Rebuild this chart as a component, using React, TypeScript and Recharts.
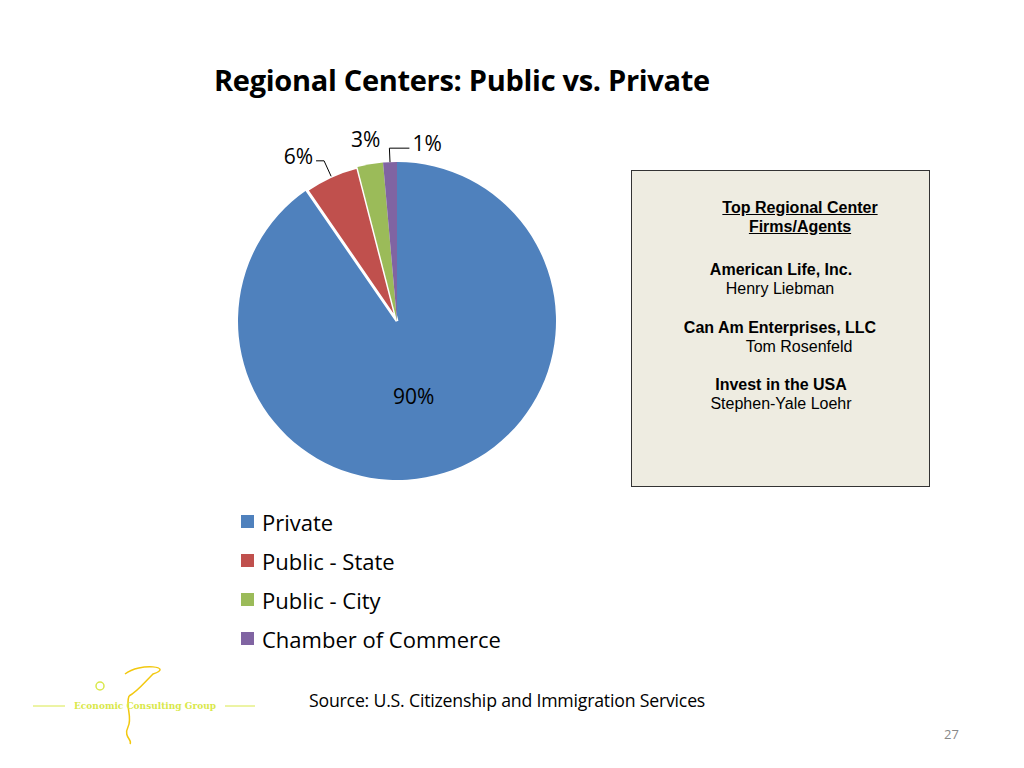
import React from "react";
import { PieChart, Pie, Cell } from "recharts";

const categories = ["Private", "Public - State", "Public - City", "Chamber of Commerce"];
const shares = [90.4, 5.6, 2.6, 1.4];
const percentLabels = ["90%", "6%", "3%", "1%"];
const colors = ["#4F81BD", "#C0504D", "#9BBB59", "#8064A2"];

const boxLines = [
  { text: "Top Regional Center", bold: true, underline: true, x: 800, y: 208 },
  { text: "Firms/Agents", bold: true, underline: true, x: 800, y: 227 },
  { text: "American Life, Inc.", bold: true, x: 781, y: 270 },
  { text: "Henry Liebman", bold: false, x: 780, y: 289 },
  { text: "Can Am Enterprises, LLC", bold: true, x: 780, y: 328 },
  { text: "Tom Rosenfeld", bold: false, x: 799, y: 347 },
  { text: "Invest in the USA", bold: true, x: 781, y: 385 },
  { text: "Stephen-Yale Loehr", bold: false, x: 781, y: 404 },
];

const data = categories.map((name, i) => ({ name, value: shares[i], label: percentLabels[i] }));

const FONT = "'Open Sans', Lato, sans-serif";
const BOX_FONT = "'Liberation Sans', Arial, sans-serif";
const RAD = Math.PI / 180;

function SliceLabel(props: any) {
  const { cx, cy, midAngle, outerRadius, index } = props;
  const cos = Math.cos(-midAngle * RAD);
  const sin = Math.sin(-midAngle * RAD);
  const text = percentLabels[index];
  if (index === 0) {
    const r = outerRadius * 0.48;
    return (
      <text x={cx + r * cos - 6} y={cy + r * sin + 2} textAnchor="middle" dominantBaseline="central"
        fontFamily={FONT} fontSize={21} fill="#000">{text}</text>
    );
  }
  const ex = cx + outerRadius * cos;
  const ey = cy + outerRadius * sin;
  if (index === 2) {
    const r = outerRadius + 26;
    return (
      <text x={cx + r * cos} y={cy + r * sin} textAnchor="middle" dominantBaseline="central"
        fontFamily={FONT} fontSize={21} fill="#000">{text}</text>
    );
  }
  const dir = index === 1 ? -1 : 1;
  const r = outerRadius + (index === 1 ? 17 : 14);
  const mx = cx + r * cos;
  const my = cy + r * sin;
  const hx = mx + dir * (index === 1 ? 8 : 20);
  return (
    <g>
      <polyline points={`${ex},${ey} ${mx},${my} ${hx},${my}`} fill="none" stroke="#000" strokeWidth={1} />
      <text x={hx + dir * 3} y={my - 5} textAnchor={dir < 0 ? "end" : "start"} dominantBaseline="central"
        fontFamily={FONT} fontSize={21} fill="#000">{text}</text>
    </g>
  );
}

export default function App() {
  return (
    <div style={{ position: "absolute", left: 0, top: 0, width: 1024, height: 768, background: "#fff", fontFamily: FONT }}>
      <div style={{ position: "absolute", left: 214, top: 60, fontSize: 29, fontWeight: 700, color: "#000", whiteSpace: "nowrap", letterSpacing: -0.3 }}>
        Regional Centers: Public vs. Private
      </div>
      <div style={{ position: "absolute", left: 0, top: 0 }}>
        <PieChart width={1024} height={768} margin={{ top: 0, right: 0, bottom: 0, left: 0 }}>
          <Pie
            data={data}
            dataKey="value"
            nameKey="name"
            cx={397}
            cy={321}
            outerRadius={159}
            startAngle={90}
            endAngle={-270}
            label={SliceLabel}
            labelLine={false}
            isAnimationActive={false}
          >
            {data.map((d, i) => (
              <Cell key={d.name} fill={colors[i]} stroke={i === 1 ? "#fff" : colors[i]} strokeWidth={i === 1 ? 3 : 0} />
            ))}
          </Pie>
        </PieChart>
      </div>
      <div style={{ position: "absolute", left: 241, top: 502 }}>
        {categories.map((c, i) => (
          <div key={c} style={{ display: "flex", alignItems: "center", height: 39 }}>
            <span style={{ width: 13, height: 13, background: colors[i], marginRight: 8, display: "inline-block" }} />
            <span style={{ fontSize: 22, color: "#000", whiteSpace: "nowrap" }}>{c}</span>
          </div>
        ))}
      </div>
      <div style={{ position: "absolute", left: 631, top: 170, width: 297, height: 315, background: "#EEECE1", border: "1px solid #333" }} />
      {boxLines.map((l) => (
        <div key={l.text} style={{
          position: "absolute", left: l.x - 150, width: 300, top: l.y - 9, height: 18, textAlign: "center",
          fontFamily: BOX_FONT, fontSize: 16, lineHeight: "18px", fontWeight: l.bold ? 700 : 400,
          textDecoration: l.underline ? "underline" : "none", color: "#000", whiteSpace: "nowrap",
        }}>{l.text}</div>
      ))}
      <div style={{ position: "absolute", left: 309, top: 688, fontSize: 17.7, color: "#000", whiteSpace: "nowrap", letterSpacing: -0.2 }}>
        Source: U.S. Citizenship and Immigration Services
      </div>
      <div style={{ position: "absolute", left: 944, top: 725, fontSize: 13, color: "#888" }}>27</div>
      <svg width={240} height={90} style={{ position: "absolute", left: 25, top: 662 }}>
        <path d="M100 12 C 115 0, 150 5, 128 12 C 118 22, 112 30, 104 34" fill="none" stroke="#F2C80F" strokeWidth={1.5} />
        <path d="M104 34 C 100 45, 108 55, 103 65 C 98 75, 108 78, 105 82" fill="none" stroke="#F2C80F" strokeWidth={1.5} />
        <circle cx={75} cy={24} r={4} fill="none" stroke="#D9E84A" strokeWidth={1.5} />
        <line x1={8} y1={44} x2={40} y2={44} stroke="#D9E84A" strokeWidth={1} />
        <line x1={200} y1={44} x2={230} y2={44} stroke="#D9E84A" strokeWidth={1} />
        <text x={120} y={47} textAnchor="middle" fontSize={9} fontWeight={700} fill="#D9E84A" fontFamily="DejaVu Serif">
          Economic Consulting Group
        </text>
      </svg>
    </div>
  );
}
